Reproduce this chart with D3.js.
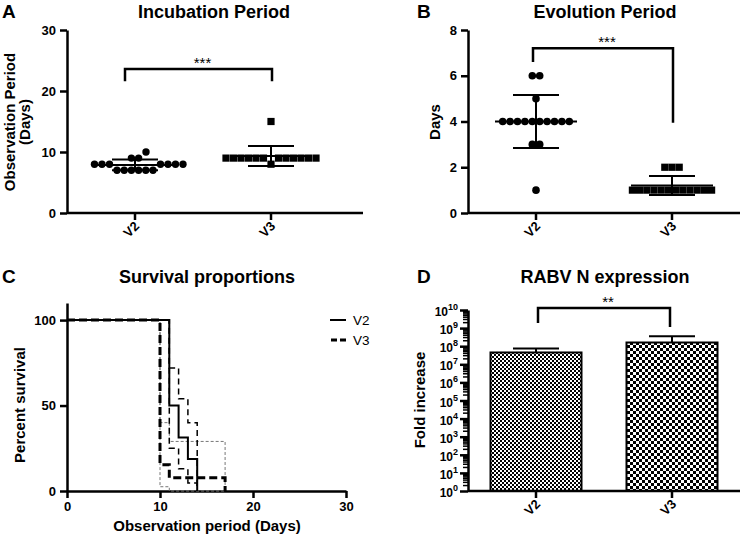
<!DOCTYPE html>
<html><head><meta charset="utf-8">
<script src="https://cdn.jsdelivr.net/npm/d3@7"></script>
<style>body{margin:0;background:#fff}</style>
</head><body><svg id="c" width="743" height="535" style="background:#fff"></svg>
<script>
// ---------- data ----------
const groups = ["V2", "V3"];
const incubationV2 = [7,7,7,7,7,7,8,8,8,8,8,8,8,9,9,10];
const incubationV3 = [8,9,9,9,9,9,9,9,9,9,9,9,9,15];
const evolutionV2 = [1,3,3,4,4,4,4,4,4,4,4,4,4,5,6,6];
const evolutionV3 = [1,1,1,1,1,1,1,1,1,1,1,1,2,2,2];
const incubationTicks = [0,10,20,30];
const evolutionTicks = [0,2,4,6,8];
const survivalDayTicks = [0,10,20,30];
const survivalPctTicks = [0,50,100];
const v2Days  = [0,11,12,13,14];
const v2Surv  = [100,50,31.25,18.75,0];
const v2Upper = [100,72,54,40,0];
const v2Lower = [100,25,13,4.7,0];
const v3Days  = [0,10,11,17];
const v3Surv  = [100,15.4,7.7,0];
const v3Upper = [100,40,29,0];
const v3Lower = [100,2.5,0,0];
const expressionMean = [4.5e7, 1.6e8];
const expressionTop  = [7.5e7, 3.6e8];
const expressionExponents = [0,1,2,3,4,5,6,7,8,9,10];

// ---------- helpers ----------
const F = "'Liberation Sans', Arial, Helvetica, sans-serif";
const svg = d3.select("#c");
const TICK_FS = 13, TITLE_FS = 18, AXT_FS = 15, LETTER_FS = 19;

function txt(x, y, s, size, weight, anchor) {
  return svg.append("text").attr("x", x).attr("y", y).text(s)
    .attr("font-family", F).attr("font-size", size)
    .attr("font-weight", weight || "bold").attr("text-anchor", anchor || "start").attr("fill", "#000");
}
function ylabel(x, y, lines, size) {
  const t = svg.append("text").attr("transform", `translate(${x},${y}) rotate(-90)`)
    .attr("font-family", F).attr("font-size", size).attr("font-weight", "bold").attr("text-anchor", "middle");
  lines.forEach((l, i) => t.append("tspan").attr("x", 0).attr("dy", i ? size * 1.0 : 0).text(l));
  return t;
}
function styleAxis(g, fs) {
  g.select(".domain").attr("stroke", "#000").attr("stroke-width", 2.5);
  g.selectAll(".tick line").attr("stroke", "#000").attr("stroke-width", 2.5);
  g.selectAll(".tick text").attr("font-family", F).attr("font-weight", "bold")
    .attr("font-size", fs || TICK_FS).attr("fill", "#000");
}
function catAxis(xs, yPix, xEnd) {
  const g = svg.append("g").attr("transform", `translate(0,${yPix})`)
    .call(d3.axisBottom(xs).tickSize(7).tickSizeOuter(0).tickFormat(""));
  g.select(".domain").remove();
  svg.append("line").attr("x1", xs.range()[0]).attr("x2", xEnd || xs.range()[1])
    .attr("y1", yPix).attr("y2", yPix).attr("stroke", "#000").attr("stroke-width", 2.5);
  styleAxis(g);
  groups.forEach(k => {
    const cx = xs(k) + xs.bandwidth() / 2;
    svg.append("text").attr("transform", `translate(${cx + 5},${yPix + 14}) rotate(-45)`)
      .attr("text-anchor", "end").attr("font-family", F).attr("font-weight", "bold")
      .attr("font-size", TICK_FS).text(k);
  });
}
function swarm(values, y, cx, size) {
  const placed = [];
  const vals = values.slice().sort((a, b) => a - b);
  const uniq = Array.from(new Set(vals));
  const hit = (o, yy) => placed.some(p => Math.abs(p.y - yy) < size - 0.01 && Math.abs(p.o - o) < size - 0.01);
  uniq.forEach(v => {
    const n = vals.filter(d => d === v).length;
    const yy = y(v);
    const block = d3.range(n).map(i => (i - (n - 1) / 2) * size);
    if (!block.some(o => hit(o, yy))) {
      block.forEach(o => placed.push({ o, y: yy, v }));
    } else {
      for (let i = 0; i < n; i++) {
        for (let k = 0; k < 4000; k++) {
          const o = (k % 2 ? 1 : -1) * Math.ceil(k / 2) * 0.5;
          if (!hit(o, yy)) { placed.push({ o, y: yy, v }); break; }
        }
      }
    }
  });
  return placed.map(p => ({ x: cx + p.o, y: p.y }));
}
function meanSD(vals, y, cx) {
  const m = d3.mean(vals), s = d3.deviation(vals);
  const g = svg.append("g").attr("stroke", "#000").attr("stroke-width", 2);
  g.append("line").attr("x1", cx - 41).attr("x2", cx + 41).attr("y1", y(m)).attr("y2", y(m));
  g.append("line").attr("x1", cx).attr("x2", cx).attr("y1", y(m + s)).attr("y2", y(m - s));
  [m + s, m - s].forEach(v => g.append("line").attr("x1", cx - 23).attr("x2", cx + 23).attr("y1", y(v)).attr("y2", y(v)));
}
function bracket(x1, x2, yTop, y1b, y2b, label) {
  svg.append("path").attr("d", `M${x1},${y1b}V${yTop}H${x2}V${y2b}`)
    .attr("fill", "none").attr("stroke", "#000").attr("stroke-width", 2.5);
  txt((x1 + x2) / 2 + 4, yTop - 1, label, 15, "normal", "middle");
}

// ---------- Panel A ----------
{
  const y = d3.scaleLinear().domain([0, 30]).range([213, 30]);
  const x = d3.scaleBand().domain(groups).range([67, 339]);
  const ga = svg.append("g").attr("transform", "translate(67,0)")
    .call(d3.axisLeft(y).tickValues(incubationTicks).tickSize(7).tickSizeOuter(0).tickPadding(4));
  styleAxis(ga);
  catAxis(x, 213, 363);
  const c2 = x("V2") + x.bandwidth() / 2, c3 = x("V3") + x.bandwidth() / 2;
  swarm(incubationV2, y, c2, 7.2).forEach(p => svg.append("circle").attr("cx", p.x).attr("cy", p.y).attr("r", 3.7).attr("fill", "#000"));
  swarm(incubationV3, y, c3, 7.2).forEach(p => svg.append("rect").attr("x", p.x - 3.6).attr("y", p.y - 3.6).attr("width", 7.2).attr("height", 7.2).attr("fill", "#000"));
  meanSD(incubationV2, y, c2);
  meanSD(incubationV3, y, c3);
  bracket(c2 - 10, c3 + 1, y(23.6), y(21.6), y(21.6), "***");
  txt(2, 18, "A", LETTER_FS);
  txt(214, 18, "Incubation Period", TITLE_FS, "bold", "middle");
  ylabel(15, 122, ["Observation Period", "(Days)"], AXT_FS);
}

// ---------- Panel B ----------
{
  const y = d3.scaleLinear().domain([0, 8]).range([213, 30]);
  const x = d3.scaleBand().domain(groups).range([468, 740]);
  const ga = svg.append("g").attr("transform", "translate(468,0)")
    .call(d3.axisLeft(y).tickValues(evolutionTicks).tickSize(7).tickSizeOuter(0).tickPadding(4));
  styleAxis(ga);
  catAxis(x, 213);
  const c2 = x("V2") + x.bandwidth() / 2, c3 = x("V3") + x.bandwidth() / 2;
  swarm(evolutionV2, y, c2, 7.4).forEach(p => svg.append("circle").attr("cx", p.x).attr("cy", p.y).attr("r", 3.8).attr("fill", "#000"));
  swarm(evolutionV3, y, c3, 7.2).forEach(p => svg.append("rect").attr("x", p.x - 3.6).attr("y", p.y - 3.6).attr("width", 7.2).attr("height", 7.2).attr("fill", "#000"));
  meanSD(evolutionV2, y, c2);
  meanSD(evolutionV3, y, c3);
  bracket(c2 - 3, c3 + 1, y(7.2), y(6.6), y(3.95), "***");
  txt(417, 18, "B", LETTER_FS);
  txt(605, 18, "Evolution Period", TITLE_FS, "bold", "middle");
  ylabel(440, 122, ["Days"], AXT_FS);
}

// ---------- Panel C ----------
{
  const x = d3.scaleLinear().domain([0, 30]).range([67, 346]);
  const y = d3.scaleLinear().domain([0, 110]).range([491, 303]);
  const gy = svg.append("g").attr("transform", "translate(67,0)")
    .call(d3.axisLeft(y).tickValues(survivalPctTicks).tickSize(7).tickSizeOuter(0).tickPadding(4));
  styleAxis(gy);
  const gx = svg.append("g").attr("transform", "translate(0,491)")
    .call(d3.axisBottom(x).tickValues(survivalDayTicks).tickSize(7).tickSizeOuter(0).tickPadding(4));
  styleAxis(gx);
  const line = d3.line().x(d => x(d[0])).y(d => y(d[1])).curve(d3.curveStepAfter);
  const draw = (days, vals, w, dash, col) => svg.append("path")
    .attr("d", line(days.map((d, i) => [d, vals[i]])))
    .attr("fill", "none").attr("stroke", col || "#000").attr("stroke-width", w)
    .attr("stroke-dasharray", dash || null);
  draw(v3Days, v3Upper, 1, "3,2", "#777");
  draw(v3Days, v3Lower, 1, "3,2", "#777");
  draw(v2Days, v2Upper, 1.5, "6,4");
  draw(v2Days, v2Lower, 1.5, "6,4");
  draw(v2Days, v2Surv, 2);
  draw(v3Days, v3Surv, 3, "8,4");
  txt(2, 283, "C", LETTER_FS);
  txt(207, 283, "Survival proportions", TITLE_FS, "bold", "middle");
  ylabel(25, 405, ["Percent survival"], AXT_FS);
  txt(207, 531, "Observation period (Days)", AXT_FS, "bold", "middle");
  // legend
  svg.append("line").attr("x1", 330).attr("x2", 346).attr("y1", 320).attr("y2", 320).attr("stroke", "#000").attr("stroke-width", 2);
  svg.append("line").attr("x1", 331).attr("x2", 348).attr("y1", 340).attr("y2", 340).attr("stroke", "#000").attr("stroke-width", 3).attr("stroke-dasharray", "6,3");
  txt(353, 325, "V2", 13.5, "normal");
  txt(353, 345, "V3", 13.5, "normal");
}

// ---------- Panel D ----------
{
  const defs = svg.append("defs");
  const p1 = defs.append("pattern").attr("id", "fine").attr("width", 4).attr("height", 4).attr("patternUnits", "userSpaceOnUse");
  p1.append("rect").attr("width", 4).attr("height", 4).attr("fill", "#fff");
  p1.append("rect").attr("width", 2).attr("height", 2).attr("fill", "#000");
  p1.append("rect").attr("x", 2).attr("y", 2).attr("width", 2).attr("height", 2).attr("fill", "#000");
  const p2 = defs.append("pattern").attr("id", "coarse").attr("width", 6).attr("height", 6).attr("patternUnits", "userSpaceOnUse");
  p2.append("rect").attr("width", 6).attr("height", 6).attr("fill", "#fff");
  p2.append("rect").attr("width", 3).attr("height", 3).attr("fill", "#000");
  p2.append("rect").attr("x", 3).attr("y", 3).attr("width", 3).attr("height", 3).attr("fill", "#000");

  const y = d3.scaleLog().domain([1, 1e10]).range([491, 310]);
  const x = d3.scaleBand().domain(groups).range([468, 740]);
  const bw = 91;
  groups.forEach((g, i) => {
    const cx = x(g) + x.bandwidth() / 2;
    svg.append("line").attr("x1", cx).attr("x2", cx).attr("y1", y(expressionMean[i])).attr("y2", y(expressionTop[i])).attr("stroke", "#000").attr("stroke-width", 2);
    svg.append("line").attr("x1", cx - 23).attr("x2", cx + 23).attr("y1", y(expressionTop[i])).attr("y2", y(expressionTop[i])).attr("stroke", "#000").attr("stroke-width", 2);
    svg.append("rect").attr("x", cx - bw / 2).attr("y", y(expressionMean[i])).attr("width", bw)
      .attr("height", y(1) - y(expressionMean[i])).attr("fill", i ? "url(#coarse)" : "url(#fine)")
      .attr("stroke", "#000").attr("stroke-width", 2);
  });
  const minors = [];
  expressionExponents.slice(0, -1).forEach(e => d3.range(2, 10).forEach(m => minors.push(m * Math.pow(10, e))));
  svg.append("g").selectAll("line").data(minors).join("line")
    .attr("x1", 463).attr("x2", 468).attr("y1", d => y(d)).attr("y2", d => y(d))
    .attr("stroke", "#000").attr("stroke-width", 1.5);
  const gy = svg.append("g").attr("transform", "translate(468,0)")
    .call(d3.axisLeft(y).tickValues(expressionExponents.map(e => Math.pow(10, e))).tickSize(8).tickSizeOuter(0).tickFormat(""));
  styleAxis(gy);
  expressionExponents.forEach(e => {
    const t = svg.append("text").attr("x", 458).attr("y", y(Math.pow(10, e)) + 6)
      .attr("text-anchor", "end").attr("font-family", F).attr("font-weight", "bold").attr("font-size", 12);
    t.append("tspan").text("10");
    t.append("tspan").attr("font-size", 9).attr("dy", -6).text(e);
  });
  catAxis(x, 491);
  const c2 = x("V2") + x.bandwidth() / 2, c3 = x("V3") + x.bandwidth() / 2;
  bracket(c2 + 2, c3 - 2, 308, 323, 327, "**");
  txt(417, 283, "D", LETTER_FS);
  txt(605, 283, "RABV N expression", TITLE_FS, "bold", "middle");
  ylabel(425, 400, ["Fold increase"], AXT_FS);
}
</script></body></html>
